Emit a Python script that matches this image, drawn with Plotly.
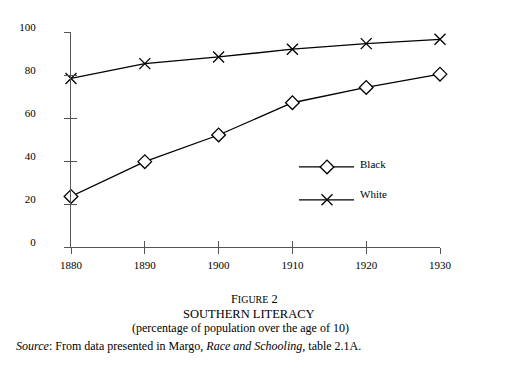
import plotly.graph_objects as go

years = [1880, 1890, 1900, 1910, 1920, 1930]
black = [23.5, 39.7, 52.1, 67.1, 74.2, 80.4]
white = [78.4, 85.3, 88.4, 92.0, 94.6, 96.6]
y_ticks = [0, 20, 40, 60, 80, 100]
x_tick_labels = ["1880", "1890", "1900", "1910", "1920", "1930"]
series_names = ["Black", "White"]

FONT = "Liberation Serif"
AX = "#555555"

# page is drawn with an 8px body margin; plot area in screenshot px: x 71..440, y 31.7..247.3
PL, PR, PT, PB = 71.0, 440.0, 31.7, 247.3
OFF = 8
W, H = 517, 372


def px_to_paper_x(px):
    return (px - PL) / (PR - PL)


def px_to_paper_y(py):
    return (PB - py) / (PB - PT)


fig = go.Figure()

fig.add_trace(go.Scatter(
    x=years, y=white, mode="lines+markers", name=series_names[1],
    line=dict(color="black", width=1.3), cliponaxis=False,
    marker=dict(symbol="x-thin-open", size=11, color="black",
                line=dict(color="black", width=1.3)),
    showlegend=False))
fig.add_trace(go.Scatter(
    x=years, y=black, mode="lines+markers", name=series_names[0],
    line=dict(color="black", width=1.3), cliponaxis=False,
    marker=dict(symbol="diamond", size=10.5, color="white",
                line=dict(color="black", width=1.3)),
    showlegend=False))

# legend keys drawn on an invisible overlay axis (0..1)
leg_x0, leg_x1, leg_xm = px_to_paper_x(299), px_to_paper_x(354), px_to_paper_x(327)
leg_y = [px_to_paper_y(167), px_to_paper_y(200)]
for i, (sym, fill) in enumerate([("diamond", "white"), ("x-thin-open", "black")]):
    fig.add_trace(go.Scatter(
        x=[leg_x0, leg_x1], y=[leg_y[i], leg_y[i]], mode="lines",
        line=dict(color="black", width=1.3), xaxis="x3", yaxis="y3",
        showlegend=False, hoverinfo="skip"))
    fig.add_trace(go.Scatter(
        x=[leg_xm], y=[leg_y[i]], mode="markers",
        marker=dict(symbol=sym, size=10.5 if sym == "diamond" else 11, color=fill,
                    line=dict(color="black", width=1.3)),
        xaxis="x3", yaxis="y3", showlegend=False, hoverinfo="skip"))

fig.add_annotation(x=px_to_paper_x(358), y=px_to_paper_y(164.5), xref="paper", yref="paper",
                   text=series_names[0], showarrow=False, xanchor="left", yanchor="middle",
                   font=dict(family=FONT, size=11, color="black"))
fig.add_annotation(x=px_to_paper_x(358), y=px_to_paper_y(194.5), xref="paper", yref="paper",
                   text=series_names[1], showarrow=False, xanchor="left", yanchor="middle",
                   font=dict(family=FONT, size=11, color="black"))

common_axis = dict(showgrid=False, zeroline=False, ticklen=6, tickwidth=1, tickcolor=AX)
inner_axis = dict(common_axis, ticks="inside", showticklabels=False, showline=False)

fig.update_layout(
    width=W, height=H,
    margin=dict(l=PL - OFF, r=W - (PR - OFF), t=PT - OFF, b=H - (PB - OFF), pad=0),
    paper_bgcolor="white", plot_bgcolor="white",
    font=dict(family=FONT, size=12, color="black"),
    xaxis=dict(range=[1880, 1930], tickvals=years, ticktext=x_tick_labels,
               ticks="outside", showline=True, linecolor=AX, linewidth=1,
               ticklabelstandoff=2,
               tickfont=dict(family=FONT, size=11, color="black"), **common_axis),
    yaxis=dict(range=[0, 100], tickvals=y_ticks, ticks="outside", showline=True,
               linecolor=AX, linewidth=1,
               ticklabelstandoff=26, ticklabelshift=-5,
               tickfont=dict(family=FONT, size=11, color="black"), **common_axis),
    xaxis2=dict(overlaying="x", range=[1880, 1930], tickvals=years, side="bottom",
                anchor="y", **inner_axis),
    yaxis2=dict(overlaying="y", range=[0, 100], tickvals=y_ticks, side="left",
                anchor="x", **inner_axis),
    xaxis3=dict(overlaying="x", range=[0, 1], visible=False),
    yaxis3=dict(overlaying="y", range=[0, 1], visible=False),
)

# invisible trace so the inner-tick axes render
fig.add_trace(go.Scatter(x=[years[0]], y=[y_ticks[0]], xaxis="x2", yaxis="y2",
                         mode="markers", marker=dict(opacity=0), showlegend=False,
                         hoverinfo="skip"))

cf = dict(family=FONT, size=12, color="black")
fig.add_annotation(x=px_to_paper_x(254), y=px_to_paper_y(299), xref="paper", yref="paper",
                   text='F<span style="font-size:10px">IGURE</span> 2',
                   showarrow=False, xanchor="center", yanchor="middle",
                   font=dict(family=FONT, size=12.3, color="black"))
fig.add_annotation(x=px_to_paper_x(248.7), y=px_to_paper_y(314), xref="paper", yref="paper",
                   text="SOUTHERN LITERACY", showarrow=False, xanchor="center",
                   yanchor="middle", font=dict(family=FONT, size=12.5, color="black"))
fig.add_annotation(x=px_to_paper_x(240.5), y=px_to_paper_y(329), xref="paper", yref="paper",
                   text="(percentage of population over the age of 10)",
                   showarrow=False, xanchor="center", yanchor="middle", font=cf)
fig.add_annotation(x=px_to_paper_x(14), y=px_to_paper_y(347), xref="paper", yref="paper",
                   text="<i>Source</i>: From data presented in Margo, <i>Race and Schooling,</i> table 2.1A.",
                   showarrow=False, xanchor="left", yanchor="middle", font=cf)

fig.write_html("out.html")
